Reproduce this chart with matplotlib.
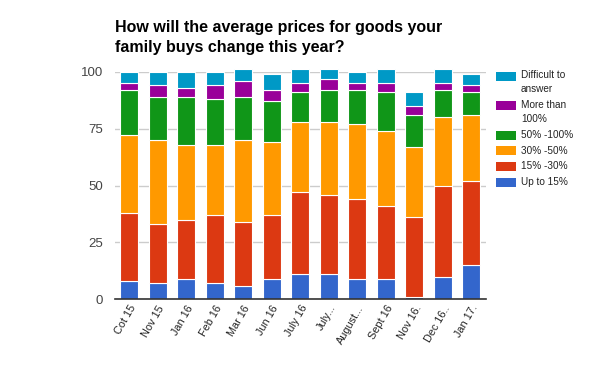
import matplotlib
matplotlib.use("Agg")
import matplotlib.pyplot as plt
from matplotlib.patches import Rectangle
import numpy as np

plt.rcParams['font.family'] = ['Liberation Sans', 'DejaVu Sans']

months = ["Cot 15", "Nov 15", "Jan 16", "Feb 16", "Mar 16", "Jun 16", "July 16",
          "July...", "August...", "Sept 16", "Nov 16.", "Dec 16..", "Jan 17."]

up_to_15 = [8, 7, 9, 7, 6, 9, 11, 11, 9, 9, 1, 10, 15]
p15_30 = [30, 26, 26, 30, 28, 28, 36, 35, 35, 32, 35, 40, 37]
p30_50 = [34, 37, 33, 31, 36, 32, 31, 32, 33, 33, 31, 30, 29]
p50_100 = [20, 19, 21, 20, 19, 18, 13, 14, 15, 17, 14, 12, 10]
more_100 = [3, 5, 4, 6, 7, 5, 4, 5, 3, 4, 4, 3, 3]
difficult = [5, 6, 7, 6, 5, 7, 6, 4, 5, 6, 6, 6, 5]

series = [up_to_15, p15_30, p30_50, p50_100, more_100, difficult]
names = ["Up to 15%", "15% -30%", "30% -50%", "50% -100%", "More than\n100%",
         "Difficult to\nanswer"]
colors = ["#3366cc", "#dc3912", "#ff9900", "#109618", "#990099", "#0099c6"]

fig = plt.figure(figsize=(6, 3.71), dpi=100)
ax = fig.add_axes([115 / 600, 1 - 299.3 / 371, 370.7 / 600, 227.6 / 371])

x = np.arange(len(months))
bottom = np.zeros(len(months))
for vals, col in zip(series, colors):
    ax.bar(x, vals, 0.63, bottom=bottom, color=col, edgecolor='white',
           linewidth=0.8, zorder=3, clip_on=False)
    bottom += np.array(vals)

ax.set_xlim(-0.5, len(months) - 0.5)
ax.set_ylim(0, 100)
ax.set_yticks([0, 25, 50, 75, 100])
ax.grid(axis='y', color='#cccccc', linewidth=1, zorder=0)
for s in ['top', 'right', 'left']:
    ax.spines[s].set_visible(False)
ax.spines['bottom'].set_color('#333333')
ax.spines['bottom'].set_linewidth(1.2)
ax.spines['bottom'].set_zorder(4)
ax.tick_params(axis='y', length=0, labelsize=9.5, labelcolor='#444444', pad=8.5)
ax.tick_params(axis='x', length=0, pad=3)
ax.set_xticks(x)
ax.set_xticklabels(months, rotation=60, ha='right', rotation_mode='anchor',
                   fontsize=7.8, color='#222222')

fig.text(115 / 600, 1 - 20 / 371,
         "How will the average prices for goods your\nfamily buys change this year?",
         fontsize=11.5, fontweight='bold', ha='left', va='top',
         linespacing=1.4, color='#000000')

# legend drawn by hand, top entry first
leg_y = [76, 106, 135, 150.5, 166, 182]
for name, col, yc in zip(reversed(names), reversed(colors), leg_y):
    fig.patches.append(Rectangle((496 / 600, 1 - (yc + 4.5) / 371), 20 / 600, 9 / 371,
                                 transform=fig.transFigure, facecolor=col,
                                 edgecolor='none'))
    if '\n' in name:
        fig.text(521 / 600, 1 - (yc - 6.5) / 371, name, fontsize=7.2, color='#222222',
                 ha='left', va='top', linespacing=1.6)
    else:
        fig.text(521 / 600, 1 - yc / 371, name, fontsize=7.2, color='#222222',
                 ha='left', va='center')

fig.savefig("out.png", dpi=100)
